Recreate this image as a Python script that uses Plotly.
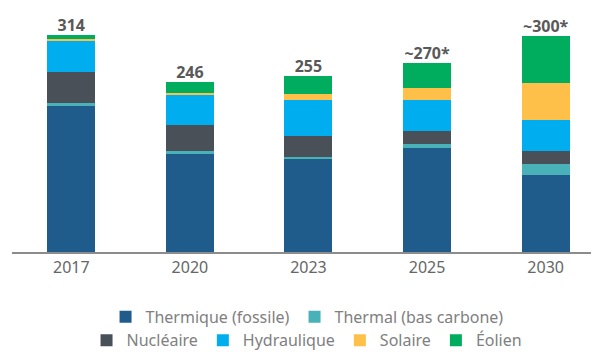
import plotly.graph_objects as go

YEARS = ["2017", "2020", "2023", "2025", "2030"]
TOTAL_LABELS = ["314", "246", "255", "~270*", "~300*"]

THERMIQUE = [211, 142, 135, 150, 111]
THERMAL_BAS_CARBONE = [4, 4, 3, 6, 16]
NUCLEAIRE = [45, 37, 30, 19, 19]
HYDRAULIQUE = [46, 44, 52, 45, 45]
SOLAIRE = [1.5, 3, 9, 17, 54]
EOLIEN = [6, 16, 26, 36, 68]

SERIES = [
    ("Thermique (fossile)", THERMIQUE, "#1F5B8B", "legend"),
    ("Thermal (bas carbone)", THERMAL_BAS_CARBONE, "#49B2B9", "legend"),
    ("Nucléaire", NUCLEAIRE, "#4A5058", "legend2"),
    ("Hydraulique", HYDRAULIQUE, "#00AEEF", "legend2"),
    ("Solaire", SOLAIRE, "#FFC04A", "legend2"),
    ("Éolien", EOLIEN, "#00AD5F", "legend2"),
]

FONT = "Noto Sans"

fig = go.Figure()
for name, values, color, legend in SERIES:
    fig.add_bar(
        name=name,
        x=YEARS,
        y=values,
        marker_color=color,
        marker_line_width=0,
        legend=legend,
    )

totals = [sum(v) for v in zip(*(s[1] for s in SERIES))]
fig.add_scatter(
    x=YEARS,
    y=totals,
    text=TOTAL_LABELS,
    mode="text",
    textposition="top center",
    textfont=dict(family=FONT, size=16, color="#595959", weight="bold"),
    showlegend=False,
    hoverinfo="skip",
)

legend_style = dict(
    orientation="h",
    traceorder="normal",
    xref="container",
    yref="container",
    xanchor="center",
    x=0.506,
    yanchor="middle",
    font=dict(family=FONT, size=16, color="#808080"),
    itemwidth=30,
    tracegroupgap=0,
    bgcolor="rgba(0,0,0,0)",
)

# the page body adds an 8px offset, so the figure is drawn 8px smaller
fig.update_layout(
    width=591,
    height=344,
    barmode="stack",
    bargap=0.595,
    plot_bgcolor="white",
    paper_bgcolor="white",
    margin=dict(l=4, r=0, t=2, b=100, autoexpand=False),
    xaxis=dict(
        range=[-0.5, 4.45],
        showline=True,
        linecolor="#8C8C8C",
        linewidth=1.5,
        ticks="",
        tickfont=dict(family=FONT, size=16, color="#666666"),
        showgrid=False,
        automargin=False,
    ),
    yaxis=dict(
        range=[0, 350],
        visible=False,
        showgrid=False,
        automargin=False,
    ),
    legend=dict(legend_style, y=0.102),
    legend2=dict(legend_style, y=0.034),
    showlegend=True,
)

fig.write_html("out.html")
